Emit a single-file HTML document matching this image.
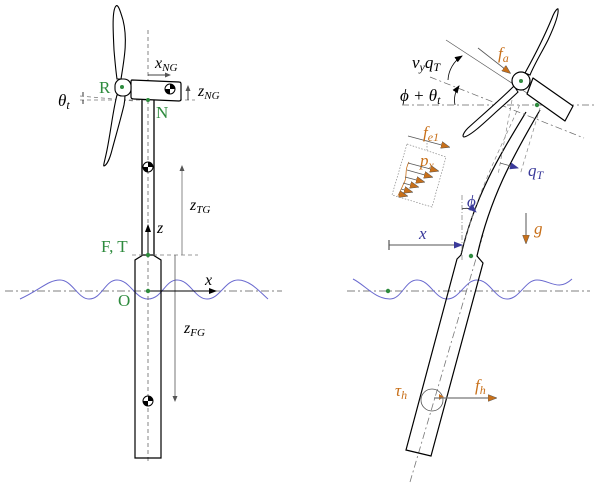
<!DOCTYPE html>
<html><head><meta charset="utf-8"><style>
html,body{margin:0;padding:0;background:#fff;}
svg{display:block;}
text{font-family:"Liberation Serif",serif;font-style:italic;}
.g{fill:#2e8b3e;font-style:normal;font-family:"Liberation Serif",serif;}
</style></head><body>
<svg width="600" height="488" viewBox="0 0 600 488" xmlns="http://www.w3.org/2000/svg">
<defs>
<marker id="ak" markerWidth="8" markerHeight="6" refX="7" refY="3" orient="auto" markerUnits="userSpaceOnUse"><path d="M0,0 L8,3 L0,6 z" fill="#000"/></marker>
<marker id="ag" markerWidth="6" markerHeight="5" refX="5" refY="2.5" orient="auto" markerUnits="userSpaceOnUse"><path d="M0,0 L6,2.5 L0,5 z" fill="#555"/></marker>
<marker id="ao" markerWidth="9" markerHeight="7" refX="8" refY="3.5" orient="auto" markerUnits="userSpaceOnUse"><path d="M0,0 L9,3.5 L0,7 z" fill="#c8701a" stroke="#555" stroke-width="0.5"/></marker>
<marker id="ab" markerWidth="9" markerHeight="7" refX="8" refY="3.5" orient="auto" markerUnits="userSpaceOnUse"><path d="M0,0 L9,3.5 L0,7 z" fill="#3a3a9a"/></marker>
<marker id="bar" markerWidth="2" markerHeight="10" refX="1" refY="5" orient="auto" markerUnits="userSpaceOnUse"><path d="M1,0 L1,10" stroke="#555" stroke-width="1.2"/></marker>
<g id="cg"><circle r="5" fill="#fff" stroke="#000" stroke-width="1"/><path d="M0,0 L0,-5 A5,5 0 0 1 5,0 z M0,0 L0,5 A5,5 0 0 1 -5,0 z" fill="#000"/></g>
</defs>

<!-- ================= LEFT ================= -->
<line x1="5" y1="291" x2="282" y2="291" stroke="#555" stroke-width="0.8" stroke-dasharray="8,3,2,3"/>
<path d="M20,299 C40,290 48,280 60,280 C72,280 78,299 89,299 C102,299 105,280 117,280 C130,280 135,299 148,299 C162,299 165,280 177,280 C190,280 195,299 207,299 C220,299 225,280 238,280 C250,280 260,292 268,299" fill="none" stroke="#6a6acf" stroke-width="1"/>
<line x1="148" y1="30" x2="148" y2="462" stroke="#666" stroke-width="0.8" stroke-dasharray="4,3"/>
<line x1="142" y1="100" x2="142" y2="255" stroke="#000" stroke-width="1.3"/>
<line x1="154" y1="100" x2="154" y2="255" stroke="#000" stroke-width="1.3"/>
<path d="M143,255 L135,260 L135,458 L161,458 L161,260 L153,255 z" fill="none" stroke="#000" stroke-width="1.2"/>
<line x1="80" y1="100" x2="195" y2="100" stroke="#777" stroke-width="0.8" stroke-dasharray="4,3"/>
<line x1="80" y1="96" x2="135" y2="101" stroke="#777" stroke-width="0.8" stroke-dasharray="4,3"/>
<line x1="132" y1="255" x2="198" y2="255" stroke="#777" stroke-width="0.8" stroke-dasharray="4,3"/>
<path d="M121,79 C124,60 128,40 123,20 C120,10 118,4 116,6 C112,10 113,30 114,50 C115,62 116,72 117,79 z" fill="#fff" stroke="#000" stroke-width="1.1"/>
<path d="M117,95 C113,110 111,130 107,150 C105,160 103,166 104,166 C107,165 110,158 112,150 C116,135 121,118 124,105 C125,100 125,96 125,95 z" fill="#fff" stroke="#000" stroke-width="1.1"/>
<path d="M132,80 L179,82 Q181,82 181,84 L181,99 Q181,101 179,101 L134,99 Q131,99 131,97 L131,82 Q131,80 132,80 z" fill="#fff" stroke="#000" stroke-width="1.2"/>
<rect x="115" y="79" width="16" height="17" rx="7" fill="#fff" stroke="#000" stroke-width="1.1"/>
<circle cx="122" cy="87" r="2" fill="#2e8b3e"/>
<use href="#cg" x="170" y="89"/>
<use href="#cg" x="148" y="167"/>
<use href="#cg" x="148" y="401"/>
<line x1="83" y1="92" x2="83" y2="96" stroke="#000" stroke-width="0.8"/>
<line x1="83" y1="104" x2="83" y2="100" stroke="#000" stroke-width="0.8"/>
<text x="58" y="106" font-size="17">θ<tspan font-size="12" dy="3">t</tspan></text>
<line x1="148" y1="75" x2="170" y2="75" stroke="#000" stroke-width="0.8" marker-end="url(#ag)"/>
<text x="155" y="68" font-size="16">x<tspan font-size="11" dy="3">NG</tspan></text>
<line x1="188" y1="100" x2="188" y2="86" stroke="#000" stroke-width="0.8" marker-end="url(#ag)"/>
<text x="198" y="96" font-size="16">z<tspan font-size="11" dy="3">NG</tspan></text>
<text x="99" y="93" class="g" font-size="17">R</text>
<text x="156" y="118" class="g" font-size="17">N</text>
<circle cx="148" cy="100" r="2" fill="#2e8b3e"/>
<line x1="182" y1="255" x2="182" y2="166" stroke="#888" stroke-width="1" marker-end="url(#ag)"/>
<text x="190" y="210" font-size="16">z<tspan font-size="11" dy="3">TG</tspan></text>
<line x1="175" y1="255" x2="175" y2="401" stroke="#555" stroke-width="0.8" marker-end="url(#ag)"/>
<text x="184" y="333" font-size="16">z<tspan font-size="11" dy="3">FG</tspan></text>
<line x1="148" y1="255" x2="148" y2="225" stroke="#000" stroke-width="1" marker-end="url(#ak)"/>
<text x="157" y="233" font-size="16">z</text>
<text x="101" y="252" class="g" font-size="17">F, T</text>
<circle cx="148" cy="255" r="2.2" fill="#2e8b3e"/>
<line x1="148" y1="291" x2="216" y2="291" stroke="#000" stroke-width="1" marker-end="url(#ak)"/>
<text x="205" y="285" font-size="16">x</text>
<text x="118" y="306" class="g" font-size="17">O</text>
<circle cx="148" cy="291" r="2.2" fill="#2e8b3e"/>

<!-- ================= RIGHT ================= -->
<line x1="347" y1="291" x2="590" y2="291" stroke="#555" stroke-width="0.8" stroke-dasharray="8,3,2,3"/>
<path d="M353,279 C365,285 375,299 390,299 C402,299 405,280 417,280 C430,280 435,299 447,299 C460,299 465,280 477,280 C490,280 495,299 507,299 C520,299 525,280 537,280 C550,280 558,292 572,279" fill="none" stroke="#6a6acf" stroke-width="1"/>
<circle cx="388" cy="291" r="2.2" fill="#2e8b3e"/>
<line x1="410" y1="482" x2="483" y2="235" stroke="#777" stroke-width="0.8" stroke-dasharray="7,3,2,3"/>
<path d="M461,255 L457,259 L406,450 L431,456 L483,263 L477,256" fill="none" stroke="#000" stroke-width="1.2"/>
<path d="M461,255 C475,195 500,155 526,112" fill="none" stroke="#000" stroke-width="1.2"/>
<path d="M477,256 C490,198 512,158 540,110" fill="none" stroke="#000" stroke-width="1.2"/>
<path d="M464,245 C478,190 500,150 520,104" fill="none" stroke="#888" stroke-width="0.7" stroke-dasharray="4,3"/>
<line x1="512" y1="100" x2="498" y2="175" stroke="#888" stroke-width="0.7" stroke-dasharray="4,3"/>
<line x1="540" y1="108" x2="520" y2="175" stroke="#888" stroke-width="0.7" stroke-dasharray="4,3"/>
<circle cx="471" cy="256" r="2.2" fill="#2e8b3e"/>
<line x1="402" y1="105" x2="597" y2="105" stroke="#666" stroke-width="0.8" stroke-dasharray="7,3,2,3"/>
<line x1="430" y1="77" x2="584" y2="138" stroke="#666" stroke-width="0.7" stroke-dasharray="7,3,2,3"/>
<line x1="446" y1="40" x2="530" y2="95" stroke="#555" stroke-width="0.7"/>
<path d="M525,73 C535,55 545,35 552,18 C555,10 558,8 558,9 C559,14 555,25 548,40 C542,52 535,63 530,75 z" fill="#fff" stroke="#000" stroke-width="1.1"/>
<path d="M514,86 C500,100 480,117 468,128 C463,133 462,137 464,137 C470,136 482,125 496,112 C505,104 514,96 518,92 z" fill="#fff" stroke="#000" stroke-width="1.1"/>
<path d="M533,78 L573,106 L565,121 L527,94 z" fill="#fff" stroke="#000" stroke-width="1.2" stroke-linejoin="round"/>
<circle cx="521" cy="81" r="9" fill="#fff" stroke="#000" stroke-width="1.2"/>
<circle cx="521" cy="81" r="2" fill="#2e8b3e"/>
<circle cx="537" cy="105" r="2.2" fill="#2e8b3e"/>
<line x1="478" y1="48" x2="510" y2="73" stroke="#555" stroke-width="0.8" marker-end="url(#ao)"/>
<text x="498" y="59" font-size="17" fill="#c8701a">f<tspan font-size="12" dy="3">a</tspan></text>
<path d="M455,105 A25,25 0 0 1 459,86" fill="none" stroke="#000" stroke-width="0.8" marker-end="url(#ak)"/>
<path d="M448,80 A30,30 0 0 1 462,56" fill="none" stroke="#000" stroke-width="0.8" marker-end="url(#ak)"/>
<text x="412" y="68" font-size="17">ν<tspan font-size="12" dy="3">y</tspan><tspan dy="-3">q</tspan><tspan font-size="12" dy="3">T</tspan></text>
<text x="400" y="101" font-size="17">ϕ + θ<tspan font-size="12" dy="3">t</tspan></text>
<line x1="408" y1="136" x2="449" y2="147" stroke="#555" stroke-width="0.8" marker-end="url(#ao)"/>
<text x="423" y="138" font-size="17" fill="#c8701a">f<tspan font-size="12" dy="3">e1</tspan></text>
<path d="M407,144 L446,157 L432,207 L392,195 z" fill="none" stroke="#888" stroke-width="0.7" stroke-dasharray="1.5,1.5"/>
<line x1="427" y1="140" x2="427" y2="150" stroke="#888" stroke-width="0.7" stroke-dasharray="1.5,1.5"/>
<text x="420" y="166" font-size="17" fill="#c8701a">p<tspan font-size="12" dy="3">x</tspan></text>
<path d="M409,162 C404,170 408,178 403,185 C401,190 399,193 398,196" fill="none" stroke="#c8701a" stroke-width="0.8"/>
<g stroke="#555" stroke-width="0.7">
<line x1="408" y1="163" x2="438" y2="171" marker-end="url(#ao)"/>
<line x1="407" y1="170" x2="432" y2="177" marker-end="url(#ao)"/>
<line x1="405" y1="177" x2="424" y2="182" marker-end="url(#ao)"/>
<line x1="403" y1="183" x2="418" y2="187" marker-end="url(#ao)"/>
<line x1="401" y1="189" x2="412" y2="192" marker-end="url(#ao)"/>
<line x1="399" y1="194" x2="407" y2="196" marker-end="url(#ao)"/>
</g>
<line x1="500" y1="163" x2="518" y2="168" stroke="#555" stroke-width="0.8" marker-end="url(#ab)"/>
<text x="528" y="176" font-size="17" fill="#3a3a9a">q<tspan font-size="12" dy="3">T</tspan></text>
<line x1="462" y1="195" x2="462" y2="262" stroke="#777" stroke-width="0.7" stroke-dasharray="5,2,1,2"/>
<path d="M462,209 A14,14 0 0 1 476,212" fill="none" stroke="#000" stroke-width="0.7" marker-end="url(#ab)"/>
<text x="467" y="207" font-size="17" fill="#3a3a9a">ϕ</text>
<line x1="526" y1="213" x2="526" y2="243" stroke="#555" stroke-width="1" marker-end="url(#ao)"/>
<text x="534" y="234" font-size="17" fill="#c8701a">g</text>
<line x1="389" y1="245" x2="462" y2="245" stroke="#555" stroke-width="1" marker-start="url(#bar)" marker-end="url(#ab)"/>
<text x="419" y="239" font-size="17" fill="#3a3a9a">x</text>
<circle cx="432" cy="400" r="11" fill="none" stroke="#555" stroke-width="0.8"/>
<path d="M439,394 L444,397 L439,400 z" fill="#c8701a"/>
<line x1="434" y1="398" x2="496" y2="398" stroke="#777" stroke-width="1.2" marker-end="url(#ao)"/>
<text x="395" y="396" font-size="17" fill="#c8701a">τ<tspan font-size="12" dy="3">h</tspan></text>
<text x="475" y="391" font-size="17" fill="#c8701a">f<tspan font-size="12" dy="3">h</tspan></text>
</svg>
</body></html>
